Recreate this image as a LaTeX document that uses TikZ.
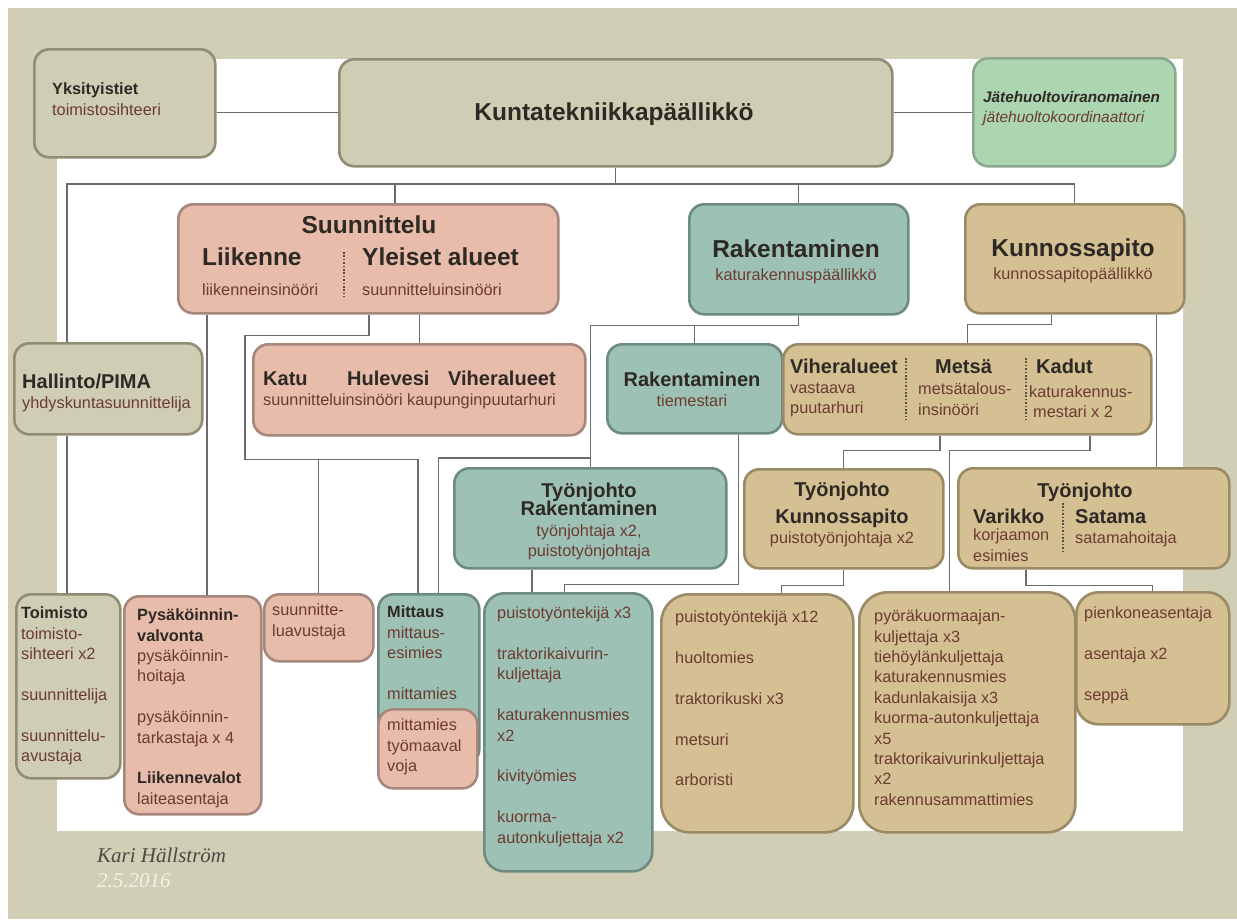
\documentclass[tikz,border=0pt]{standalone}
\usepackage{fontspec}
\setmainfont{Liberation Sans}
\newfontfamily\signfont{Liberation Serif}

\definecolor{bgolive}{HTML}{D0CFB5}
\definecolor{olivefill}{HTML}{CFCDB3}
\definecolor{oliveline}{HTML}{8F8E74}
\definecolor{pinkfill}{HTML}{E8BCAA}
\definecolor{pinkline}{HTML}{A6877C}
\definecolor{tealfill}{HTML}{9DC1B4}
\definecolor{tealline}{HTML}{6D8B81}
\definecolor{tanfill}{HTML}{D5C093}
\definecolor{tanline}{HTML}{9A8A65}
\definecolor{greenfill}{HTML}{ABD6AF}
\definecolor{greenline}{HTML}{8DA68F}
\definecolor{linkgray}{HTML}{6C6C6C}
\definecolor{headdark}{HTML}{2E2925}
\definecolor{subbrown}{HTML}{6B3B32}
\definecolor{sepbrown}{HTML}{5C4B40}
\definecolor{signgray}{HTML}{4B4A42}
\definecolor{datewhite}{HTML}{F2F1E8}

\newcommand{\fbig}{\fontsize{24.5}{28}\selectfont\bfseries}
\newcommand{\fmid}{\fontsize{20}{24}\selectfont\bfseries}
\newcommand{\fsmall}{\fontsize{16.3}{20.4}\selectfont}
\newcommand{\hbx}[1]{{\bfseries\color{headdark}#1}}

\begin{document}
\begin{tikzpicture}[x=1pt, y=-1pt,
    box/.style={draw, line width=2.6pt, rounded corners=15pt, inner sep=0pt, anchor=north west},
    olivebox/.style={box, fill=olivefill, draw=oliveline},
    pinkbox/.style={box, fill=pinkfill, draw=pinkline},
    tealbox/.style={box, fill=tealfill, draw=tealline},
    tanbox/.style={box, fill=tanfill, draw=tanline},
    greenbox/.style={box, fill=greenfill, draw=greenline},
    link/.style={draw=linkgray, line width=1.3pt},
    sep/.style={draw=sepbrown, line width=1.6pt, dash pattern=on 1.6pt off 1.8pt},
    hd/.style={inner sep=0pt, anchor=base, text=headdark},
    lbl/.style={inner sep=0pt, anchor=base west, text=subbrown, font=\fsmall},
    blk/.style={inner sep=0pt, anchor=north west, align=left, text=subbrown, font=\fsmall, execute at begin node=\strut}]

    % page
    \useasboundingbox (0,0) rectangle (1237,919);
    \fill[white] (0,0) rectangle (1237,919);
    \fill[bgolive] (8,8) rectangle (1237,919);
    \fill[white] (57,59) rectangle (1183,831);

    % boxes
    \node[olivebox, minimum width=181pt, minimum height=108pt] (yksi) at (33,48) {};
    \node[olivebox, minimum width=553pt, minimum height=107pt] (kunta) at (338,58) {};
    \node[greenbox, minimum width=202pt, minimum height=108pt] (jate) at (972,57) {};
    \node[pinkbox, minimum width=380pt, minimum height=109pt] (suunn) at (177,203) {};
    \node[tealbox, minimum width=219pt, minimum height=110pt] (rakent) at (688,203) {};
    \node[tanbox, minimum width=219pt, minimum height=109pt] (kunnossa) at (964,203) {};
    \node[olivebox, minimum width=188pt, minimum height=91pt] (hallinto) at (13,342) {};
    \node[pinkbox, minimum width=332pt, minimum height=91pt] (katu) at (252,343) {};
    \node[tealbox, minimum width=175pt, minimum height=89pt] (tiem) at (606,343) {};
    \node[tanbox, minimum width=368pt, minimum height=90pt] (vmk) at (782,343) {};
    \node[tealbox, minimum width=272pt, minimum height=100pt] (tjrak) at (453,467) {};
    \node[tanbox, minimum width=199pt, minimum height=99pt] (tjkun) at (743,468) {};
    \node[tanbox, minimum width=271pt, minimum height=100pt] (tjvs) at (957,467) {};
    \node[olivebox, minimum width=104pt, minimum height=184pt] (toimisto) at (15,593) {};
    \node[pinkbox, minimum width=137pt, minimum height=218pt] (pysak) at (123,595) {};
    \node[pinkbox, minimum width=109pt, minimum height=67pt] (savust) at (263,593) {};
    \node[tealbox, minimum width=101pt, minimum height=170pt] (mittaus) at (377,593) {};
    \node[pinkbox, minimum width=99pt, minimum height=79pt] (mittpink) at (377,708) {};
    \node[tealbox, minimum width=168pt, minimum height=278pt, rounded corners=20pt] (puist3) at (483,592) {};
    \node[tanbox, minimum width=192pt, minimum height=238pt, rounded corners=28pt] (puist12) at (660,593) {};
    \node[tanbox, minimum width=216pt, minimum height=240pt, rounded corners=28pt] (pyora) at (858,591) {};
    \node[tanbox, minimum width=153pt, minimum height=132pt, rounded corners=22pt] (pienk) at (1075,591) {};

    % connectors
    \coordinate (busl) at (67,184);
    \coordinate (busr) at (kunnossa.north |- busl);
    \draw[link] (yksi.east |- kunta.west) -- (kunta.west);
    \draw[link] (kunta.east) -- (jate.west |- kunta.east);
    \draw[link] (kunta.south) -- (kunta.south |- busl);
    \draw[link] (busl |- hallinto.north) -- (busl) -- (busr) -- (kunnossa.north);
    \draw[link] (suunn.north west) ++(218,0) -- ++(0,-19);
    \draw[link] (rakent.north) -- (rakent.north |- busl);
    \draw[link] (busl |- hallinto.south) -- (busl |- toimisto.north);

    \draw[link] (suunn.south west) ++(30,0) coordinate (s1) -- (s1 |- pysak.north);
    \draw[link] (suunn.south west) ++(192,0) -- ++(0,21) -- ++(-124,0) -- ++(0,124) -- ++(173,0) coordinate (s2) -- (s2 |- mittaus.north);
    \draw[link] (savust.north) -- (savust.north |- s2);
    \draw[link] (katu.north) -- (katu.north |- suunn.south);

    \draw[link] (rakent.south) -- ++(0,10) coordinate (r1) -| (tjrak.north);
    \draw[link] (tiem.north) -- (tiem.north |- r1);
    \draw[link] (tjrak.north) ++(0,-9) -| ([xshift=9.5pt]mittaus.north);
    \draw[link] (tjrak.south west) ++(79,0) coordinate (t1) -- (t1 |- puist3.north);
    \draw[link] (tiem.south east) ++(-45,0) -- ++(0,150) -| ([xshift=-4pt]puist3.north);

    \draw[link] (kunnossa.south) ++(-23,0) -- ++(0,10) -| (vmk.north);
    \draw[link] (kunnossa.south east) ++(-29,0) coordinate (k1) -- (k1 |- tjvs.north);
    \draw[link] (vmk.south west) ++(158,0) -- ++(0,15) -| (tjkun.north);
    \draw[link] (vmk.south west) ++(308,0) -- ++(0,15) -| ([xshift=-18pt]pyora.north);
    \draw[link] (tjkun.south) -- ++(0,16) -| ([xshift=24pt]puist12.north);
    \draw[link] (tjvs.south west) ++(69,0) -- ++(0,16) -| (pienk.north);

    % texts, top rows
    \node[blk] (yksi-t) at (52,82.7) {\hbx{Yksityistiet}\\toimistosihteeri};
    \node[hd, font=\fbig] (kunta-t) at (614,120) {Kuntatekniikkapäällikkö};
    \node[lbl, text=headdark, font=\fontsize{15.3}{19}\selectfont\bfseries\itshape] (jate-t) at (983,102) {Jätehuoltoviranomainen};
    \node[lbl, font=\fontsize{15.5}{19}\selectfont\itshape] (jate-s) at (983,122) {jätehuoltokoordinaattori};

    \node[hd, font=\fbig] (suunn-t) at (369,233) {Suunnittelu};
    \node[lbl, text=headdark, font=\fbig] (liik-t) at (202,265) {Liikenne};
    \node[lbl] (liik-s) at (202,295) {liikenneinsinööri};
    \node[lbl, text=headdark, font=\fbig] (yleis-t) at (362,265) {Yleiset alueet};
    \node[lbl] (yleis-s) at (362,295) {suunnitteluinsinööri};
    \draw[sep] (344,252) -- (344,297);

    \node[hd, font=\fbig] (rakent-t) at (796,257) {Rakentaminen};
    \node[hd, text=subbrown, font=\fsmall] (rakent-s) at (796,280) {katurakennuspäällikkö};
    \node[hd, font=\fbig] (kunnossa-t) at (1073,256) {Kunnossapito};
    \node[hd, text=subbrown, font=\fsmall] (kunnossa-s) at (1073,279) {kunnossapitopäällikkö};

    % texts, middle rows
    \node[lbl, text=headdark, font=\fmid] (hallinto-t) at (22,388) {Hallinto/PIMA};
    \node[lbl] (hallinto-s) at (22,408) {yhdyskuntasuunnittelija};

    \node[lbl, text=headdark, font=\fmid] (katu-t) at (263,385) {Katu};
    \node[lbl, text=headdark, font=\fmid] (hule-t) at (347,385) {Hulevesi};
    \node[lbl, text=headdark, font=\fmid] (viher-t) at (448,385) {Viheralueet};
    \node[lbl] (katu-s) at (263,405) {suunnitteluinsinööri kaupunginpuutarhuri};

    \node[hd, font=\fmid] (tiem-t) at (692,386) {Rakentaminen};
    \node[hd, text=subbrown, font=\fsmall] (tiem-s) at (692,406) {tiemestari};

    \node[lbl, text=headdark, font=\fmid] (vmk-t1) at (790,373) {Viheralueet};
    \node[lbl, text=headdark, font=\fmid] (vmk-t2) at (935,373) {Metsä};
    \node[lbl, text=headdark, font=\fmid] (vmk-t3) at (1036,373) {Kadut};
    \node[blk] (vmk-s1) at (790,382.7) {vastaava\\puutarhuri};
    \node[blk] (vmk-s2) at (918,382.7) {metsätalous-\\insinööri};
    \node[lbl] (vmk-s3) at (1029,397) {katurakennus-};
    \node[lbl] (vmk-s4) at (1033,417) {mestari x 2};
    \draw[sep] (906,358) -- (906,420);
    \draw[sep] (1026,358) -- (1026,420);

    \node[hd, font=\fmid] (tjrak-t1) at (589,497) {Työnjohto};
    \node[hd, font=\fmid] (tjrak-t2) at (589,515) {Rakentaminen};
    \node[hd, text=subbrown, font=\fsmall] (tjrak-s1) at (589,536) {työnjohtaja x2,};
    \node[hd, text=subbrown, font=\fsmall] (tjrak-s2) at (589,556) {puistotyönjohtaja};

    \node[hd, font=\fmid] (tjkun-t1) at (842,496) {Työnjohto};
    \node[hd, font=\fmid] (tjkun-t2) at (842,523) {Kunnossapito};
    \node[hd, text=subbrown, font=\fsmall] (tjkun-s) at (842,543) {puistotyönjohtaja x2};

    \node[hd, font=\fmid] (tjvs-t) at (1085,497) {Työnjohto};
    \node[lbl, text=headdark, font=\fmid] (vari-t) at (973,523) {Varikko};
    \node[lbl, text=headdark, font=\fmid] (sata-t) at (1075,523) {Satama};
    \node[blk] (vari-s) at (973,528.7) {korjaamon\\esimies};
    \node[lbl] (sata-s) at (1075,543) {satamahoitaja};
    \draw[sep] (1063,503) -- (1063,552);

    % texts, bottom row
    \node[blk] (toimisto-t) at (21,606.7) {\hbx{Toimisto}\\toimisto-\\sihteeri x2\\[20.4pt]suunnittelija\\[20.4pt]suunnittelu-\\avustaja};
    \node[blk] (pysak-t) at (137,608.7) {\hbx{Pysäköinnin-}\\\hbx{valvonta}\\pysäköinnin-\\hoitaja\\[20.4pt]pysäköinnin-\\tarkastaja x 4\\[20.4pt]\hbx{Liikennevalot}\\laiteasentaja};
    \node[blk] (savust-t) at (272,603.7) {suunnitte-\\luavustaja};
    \node[blk] (mittaus-t) at (387,605.7) {\hbx{Mittaus}\\mittaus-\\esimies\\[20.4pt]mittamies};
    \node[blk] (mittpink-t) at (387,718.7) {mittamies\\työmaaval\\voja};
    \node[blk] (puist3-t) at (497,606.7) {puistotyöntekijä x3\\[20.4pt]traktorikaivurin-\\kuljettaja\\[20.4pt]katurakennusmies\\x2\\[20.4pt]kivityömies\\[20.4pt]kuorma-\\autonkuljettaja x2};
    \node[blk] (puist12-t) at (675,610.7) {puistotyöntekijä x12\\[20.4pt]huoltomies\\[20.4pt]traktorikuski x3\\[20.4pt]metsuri\\[20.4pt]arboristi};
    \node[blk] (pyora-t) at (874,609.7) {pyöräkuormaajan-\\kuljettaja x3\\tiehöylänkuljettaja\\katurakennusmies\\kadunlakaisija x3\\kuorma-autonkuljettaja\\x5\\traktorikaivurinkuljettaja\\x2\\rakennusammattimies};
    \node[blk] (pienk-t) at (1084,606.7) {pienkoneasentaja\\[20.4pt]asentaja x2\\[20.4pt]seppä};

    % signature
    \node[inner sep=0pt, anchor=base west, text=signgray, font=\signfont\itshape\fontsize{21}{25}\selectfont] (sign) at (97,862) {Kari Hällström};
    \node[inner sep=0pt, anchor=base west, text=datewhite, font=\signfont\itshape\fontsize{21}{25}\selectfont] (date) at (97,887) {2.5.2016};
\end{tikzpicture}
\end{document}
